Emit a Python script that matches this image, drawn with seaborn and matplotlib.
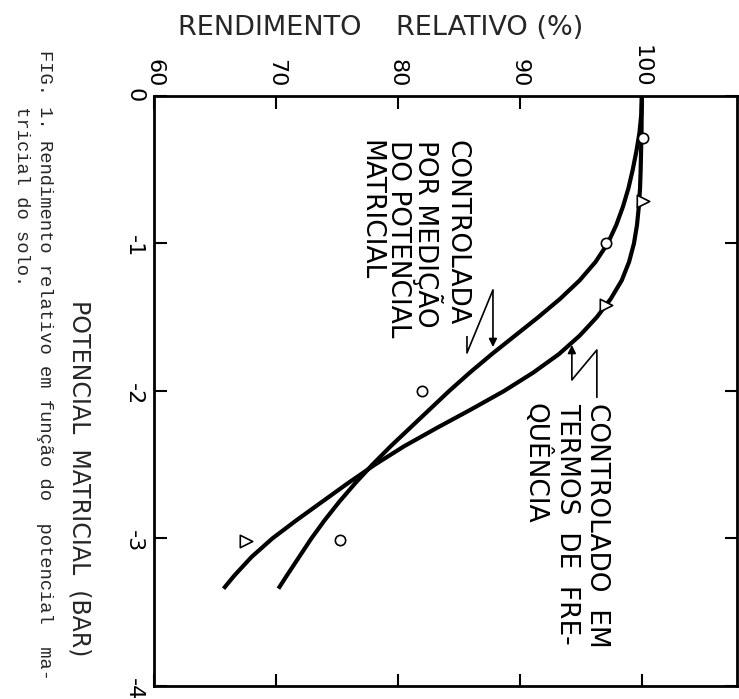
import matplotlib
matplotlib.use("Agg")
import matplotlib.pyplot as plt
import seaborn as sns

# curve "controlada por medicao do potencial matricial" (circles)
pot_med = [0, -0.125, -0.25, -0.375, -0.5, -0.625, -0.75, -0.875, -1.0, -1.125, -1.25,
           -1.375, -1.5, -1.625, -1.75, -1.875, -2.0, -2.125, -2.25, -2.375, -2.5,
           -2.625, -2.75, -2.875, -3.0, -3.125, -3.25, -3.34]
rend_med = [100, 99.95, 99.8, 99.55, 99.25, 98.9, 98.45, 97.9, 97.2, 96.2, 94.9,
            93.3, 91.5, 89.6, 87.7, 85.9, 84.2, 82.6, 81.0, 79.4, 77.9,
            76.5, 75.2, 74.0, 72.9, 71.9, 70.9, 70.2]

# curve "controlado em termos de frequencia" (triangles)
pot_freq = [0, -0.25, -0.5, -0.625, -0.75, -0.875, -1.0, -1.125, -1.25, -1.375, -1.5,
            -1.625, -1.75, -1.875, -2.0, -2.125, -2.25, -2.375, -2.5, -2.625, -2.75,
            -2.875, -3.0, -3.125, -3.25, -3.34]
rend_freq = [100, 99.97, 99.9, 99.85, 99.75, 99.6, 99.35, 98.95, 98.35, 97.45, 96.3,
             94.9, 93.2, 91.1, 88.7, 86.0, 83.2, 80.5, 78.1, 75.9, 73.8,
             71.7, 69.7, 68.0, 66.6, 65.7]

# observed points
pot_circ = [-0.285, -1.0, -2.0, -3.01]
rend_circ = [100.08, 97.05, 81.97, 75.25]
pot_tri = [-0.712, -1.417, -3.02]
rend_tri = [100.08, 97.05, 67.54]

rend_ticks = [60, 70, 80, 90, 100]
pot_ticks = [0, -1, -2, -3, -4]
pot_labels = ["0", "-1", "-2", "-3", "-4"]

sns.set_theme(style="white")
plt.rcParams["font.family"] = ["DejaVu Sans"]
plt.rcParams["lines.solid_joinstyle"] = "round"
plt.rcParams["lines.solid_capstyle"] = "butt"

fig = plt.figure(figsize=(7.39, 6.99), dpi=100)
ax = fig.add_axes([0.2084, 0.0186, 0.7889, 0.8441])

sns.lineplot(x=rend_med, y=pot_med, sort=False, estimator=None, color="black", lw=3, ax=ax)
sns.lineplot(x=rend_freq, y=pot_freq, sort=False, estimator=None, color="black", lw=3, ax=ax)
sns.scatterplot(x=rend_circ, y=pot_circ, marker="o", s=55, facecolor="white",
                edgecolor="black", linewidth=1.2, zorder=5, ax=ax)
sns.scatterplot(x=rend_tri, y=pot_tri, marker=">", s=80, facecolor="white",
                edgecolor="black", linewidth=1.2, zorder=5, ax=ax)

ax.set_xlim(60, 107.8)
ax.set_ylim(-4, 0)
ax.set_xlabel("")
ax.set_ylabel("")

ax.set_xticks(rend_ticks)
ax.set_xticklabels([str(v) for v in rend_ticks], rotation=270)
ax.set_yticks(pot_ticks)
ax.set_yticklabels(pot_labels, rotation=270)
ax.tick_params(direction="in", length=9, width=1.5, colors="black", labelsize=16,
               top=True, bottom=True, left=True, right=True,
               labeltop=True, labelbottom=False, labelleft=True, labelright=False)
ax.tick_params(axis="x", pad=6)
ax.tick_params(axis="y", pad=7)
for side in ax.spines.values():
    side.set_color("black")
    side.set_linewidth(2)

# annotation: controlada por medicao
ax.text(85.9, -0.298, "CONTROLADA\nPOR MEDIÇÃO\nDO POTENCIAL\nMATRICIAL",
        rotation=270, ha="right", va="top", multialignment="left",
        fontsize=19, linespacing=1.05, color="black")
ax.plot([85.66, 85.66, 87.79], [-1.627, -1.742, -1.315], color="black", lw=1.2)
ax.annotate("", xy=(87.79, -1.702), xytext=(87.79, -1.315),
            arrowprops=dict(arrowstyle="-|>", color="black", lw=1.2,
                            mutation_scale=12, shrinkA=0, shrinkB=0))

# annotation: controlado em termos de frequencia
ax.text(97.4, -2.08, "CONTROLADO  EM\nTERMOS  DE  FRE-\nQUÊNCIA",
        rotation=270, ha="right", va="top", multialignment="left",
        fontsize=19, linespacing=1.2, color="black")
ax.plot([96.31, 96.31, 94.26], [-2.047, -1.722, -1.925], color="black", lw=1.2)
ax.annotate("", xy=(94.26, -1.688), xytext=(94.26, -1.925),
            arrowprops=dict(arrowstyle="-|>", color="black", lw=1.2,
                            mutation_scale=12, shrinkA=0, shrinkB=0))

fig.text(0.515, 0.96, "RENDIMENTO    RELATIVO (%)", ha="center", va="center", fontsize=19.5)
fig.text(0.108, 0.316, "POTENCIAL  MATRICIAL  (BAR)", ha="center", va="center",
         rotation=270, fontsize=17)
fig.text(0.045, 0.928,
         "FIG. 1. Rendimento relativo em função do  potencial  ma-\n     tricial do solo.",
         ha="center", va="top", rotation=270, multialignment="left",
         family=["Liberation Mono", "DejaVu Sans Mono"], fontsize=13.5, linespacing=1.45)

fig.savefig("out.png", dpi=100, facecolor="white")
